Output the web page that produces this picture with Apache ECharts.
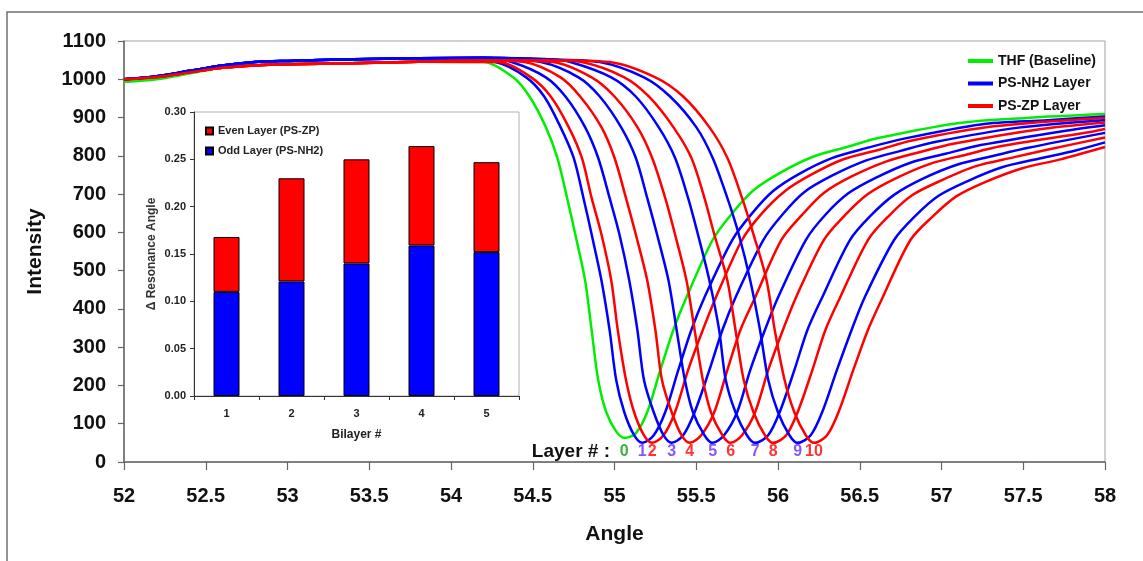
<!DOCTYPE html>
<html>
<head>
<meta charset="utf-8">
<script src="https://cdn.jsdelivr.net/npm/echarts@6/dist/echarts.min.js"></script>
<style>
  html, body { margin: 0; padding: 0; background: #ffffff; }
  #chart { width: 1143px; height: 561px; }
</style>
</head>
<body>
<div id="chart"></div>
<script>
// SPR reflectivity scans: [angle (deg), intensity]
const plateauGreen = [[52,993],[52.2,1000],[52.4,1015],[52.6,1030],[52.8,1036],[53.0,1040],[53.4,1043],[53.8,1046]];
const plateauBlue  = [[52,1000],[52.2,1008],[52.4,1022],[52.6,1036],[52.8,1045],[53.0,1048],[53.4,1052],[53.8,1055],[54.2,1056],[54.6,1052],[55.0,1047]];
const plateauRed   = [[52,1000],[52.2,1006],[52.4,1018],[52.6,1030],[52.8,1036],[53.0,1039],[53.4,1042],[53.8,1046],[54.2,1050],[54.6,1050],[55.0,1047]];

const layer0 = [[54.20,1045],[54.38,1005],[54.48,955],[54.58,875],[54.65,795],[54.71,690],[54.76,595],[54.82,475],[54.86,345],[54.90,215],[54.95,130],[55.01,80],[55.06,63],
  [55.13,75],[55.20,130],[55.28,240],[55.36,345],[55.44,430],[55.60,580],[55.72,650],[55.85,710],[56.01,755],[56.21,797],[56.42,823],[56.62,847],[57.11,886],[57.52,899],[58,909]];
const layer1 = [[54.27,1045],[54.46,1005],[54.57,955],[54.67,875],[54.75,795],[54.81,690],[54.86,595],[54.92,475],[54.97,345],[55.01,215],[55.06,130],[55.12,70],[55.17,50],
  [55.24,70],[55.31,130],[55.39,240],[55.47,345],[55.55,430],[55.72,580],[55.84,649],[55.97,708],[56.13,753],[56.33,794],[56.54,820],[56.75,843],[57.24,882],[57.65,893],[58,903]];
const layer2 = [[54.29,1045],[54.49,1005],[54.61,955],[54.72,875],[54.80,795],[54.86,690],[54.92,595],[54.98,475],[55.02,345],[55.07,215],[55.12,130],[55.18,70],[55.23,50],
  [55.30,70],[55.37,130],[55.45,240],[55.54,345],[55.62,430],[55.78,580],[55.90,649],[56.04,707],[56.20,750],[56.40,791],[56.62,816],[56.82,840],[57.32,877],[58,899]];
const layer3 = [[54.37,1045],[54.58,1005],[54.70,955],[54.82,875],[54.90,795],[54.97,690],[55.03,595],[55.09,475],[55.14,345],[55.18,215],[55.24,130],[55.30,70],[55.35,50],
  [55.42,70],[55.49,130],[55.58,240],[55.66,345],[55.74,430],[55.91,580],[56.03,648],[56.16,705],[56.33,748],[56.54,788],[56.75,813],[56.96,836],[57.46,873],[58,893]];
const layer4 = [[54.45,1045],[54.67,1005],[54.79,955],[54.92,875],[55.00,795],[55.07,690],[55.13,595],[55.20,475],[55.25,345],[55.29,215],[55.35,130],[55.41,70],[55.46,50],
  [55.53,70],[55.61,130],[55.69,240],[55.77,345],[55.86,430],[56.02,580],[56.15,647],[56.28,703],[56.45,746],[56.66,785],[56.87,810],[57.08,832],[57.59,869],[58,887]];
const layer5 = [[54.55,1045],[54.78,1005],[54.91,955],[55.04,875],[55.13,795],[55.20,690],[55.26,595],[55.33,475],[55.38,345],[55.43,215],[55.48,130],[55.55,70],[55.60,50],
  [55.67,70],[55.75,130],[55.83,240],[55.92,345],[56.00,430],[56.17,580],[56.29,646],[56.43,702],[56.60,743],[56.81,782],[57.03,806],[57.24,828],[57.75,865],[58,880]];
const layer6 = [[54.62,1045],[54.86,1005],[55.00,955],[55.14,875],[55.23,795],[55.31,690],[55.37,595],[55.44,475],[55.49,345],[55.54,215],[55.59,130],[55.66,70],[55.71,50],
  [55.78,70],[55.86,130],[55.94,240],[56.03,345],[56.11,430],[56.28,580],[56.41,645],[56.55,700],[56.72,741],[56.93,779],[57.15,803],[57.36,825],[57.88,860],[58,870]];
const layer7 = [[54.73,1045],[54.98,1005],[55.13,955],[55.27,875],[55.37,795],[55.45,690],[55.51,595],[55.58,475],[55.64,345],[55.68,215],[55.74,130],[55.81,70],[55.86,50],
  [55.94,70],[56.01,130],[56.10,240],[56.18,345],[56.27,430],[56.44,580],[56.57,645],[56.71,698],[56.88,739],[57.09,776],[57.32,800],[57.53,821],[58,860]];
const layer8 = [[54.80,1045],[55.06,1005],[55.21,955],[55.36,875],[55.47,795],[55.55,690],[55.61,595],[55.69,475],[55.74,345],[55.79,215],[55.85,130],[55.92,70],[55.97,50],
  [56.05,70],[56.12,130],[56.21,240],[56.29,345],[56.38,430],[56.55,580],[56.68,644],[56.82,697],[57.00,736],[57.21,773],[57.44,796],[57.66,817],[58,848]];
const layer9 = [[54.91,1045],[55.18,1005],[55.34,955],[55.50,875],[55.60,795],[55.69,690],[55.76,595],[55.83,475],[55.89,345],[55.94,215],[56.00,130],[56.07,70],[56.12,50],
  [56.20,70],[56.27,130],[56.36,240],[56.45,345],[56.53,430],[56.71,580],[56.84,643],[56.98,695],[57.16,734],[57.37,770],[57.60,793],[57.82,814],[58,835]];
const layer10 = [[54.97,1045],[55.25,1005],[55.42,955],[55.58,875],[55.69,795],[55.78,690],[55.85,595],[55.93,475],[55.98,345],[56.04,215],[56.10,130],[56.17,70],[56.22,50],
  [56.30,70],[56.37,130],[56.46,240],[56.55,345],[56.64,430],[56.81,580],[56.95,643],[57.09,694],[57.27,732],[57.49,767],[57.72,790],[58,823]];

// angle of the reflectivity minimum for layers 0..10
const minAngles = [55.06, 55.17, 55.23, 55.35, 55.46, 55.60, 55.71, 55.86, 55.97, 56.12, 56.22];
const layerNumbers = ['0','1','2','3','4','5','6','7','8','9','10'];

// inset: resonance-angle shift per bilayer
const bilayers = ['1','2','3','4','5'];
const oddShift  = [0.110, 0.121, 0.140, 0.159, 0.152];
const evenShift = [0.058, 0.109, 0.110, 0.105, 0.095];

const FONT = "'Liberation Sans', Arial, sans-serif";
const GREEN = '#00ee00', BLUE = '#0000ff', RED = '#ff0000';
const NAME_THF = 'THF (Baseline)', NAME_NH2 = 'PS-NH2 Layer', NAME_ZP = 'PS-ZP Layer';

const curves = [layer0, layer1, layer2, layer3, layer4, layer5, layer6, layer7, layer8, layer9, layer10];

function withPlateau(curve, idx) {
  const plateau = idx === 0 ? plateauGreen : (idx % 2 === 1 ? plateauBlue : plateauRed);
  const start = curve[0][0];
  return plateau.filter(p => p[0] < start - 0.12).concat(curve);
}

const colorOf = i => i === 0 ? GREEN : (i % 2 === 1 ? BLUE : RED);

const lineSeries = curves.map((c, i) => ({
  type: 'line',
  name: i === 0 ? NAME_THF : (i % 2 === 1 ? NAME_NH2 : NAME_ZP),
  data: withPlateau(c, i),
  xAxisIndex: 0, yAxisIndex: 0,
  showSymbol: false, symbol: 'none',
  smooth: 0.3,
  lineStyle: { width: 2.5, color: colorOf(i) },
  itemStyle: { color: colorOf(i) },
  z: 2
}));

const labelColor = i => i === 0 ? '#119911' : (i % 2 === 1 ? '#6a2cff' : '#ff0000');

const layerLabelSeries = {
  type: 'scatter',
  xAxisIndex: 0, yAxisIndex: 0,
  symbolSize: 1,
  itemStyle: { color: 'rgba(0,0,0,0)' },
  clip: false,
  silent: true,
  data: minAngles.map((a, i) => ({
    value: [a, 0],
    label: {
      show: true, position: 'inside', offset: [0, -10],
      formatter: layerNumbers[i],
      color: labelColor(i), fontSize: 16, fontWeight: 'bold', fontFamily: FONT
    }
  })),
  z: 5
};

const barCommon = {
  type: 'bar', xAxisIndex: 1, yAxisIndex: 1, stack: 'shift', barWidth: 26
};

const chart = echarts.init(document.getElementById('chart'), null, { renderer: 'canvas' });

chart.setOption({
  animation: false,
  backgroundColor: '#ffffff',
  textStyle: { fontFamily: FONT },
  grid: [
    { left: 124, top: 41, width: 981, height: 421, show: true, borderColor: '#a0a0a0', borderWidth: 1, backgroundColor: 'transparent' },
    { left: 194, top: 112, width: 325, height: 284, show: true, borderColor: '#b0b0b0', borderWidth: 1, backgroundColor: 'transparent' }
  ],
  legend: [
    {
      data: [NAME_THF, NAME_NH2, NAME_ZP],
      orient: 'vertical', left: 963, top: 47,
      itemWidth: 25, itemHeight: 4, icon: 'rect', itemGap: 4.5,
      textStyle: { fontSize: 14, fontWeight: 'bold', color: '#111', fontFamily: FONT, lineHeight: 18 },
      selectedMode: false
    },
    {
      data: ['Even Layer (PS-ZP)', 'Odd Layer (PS-NH2)'],
      orient: 'vertical', left: 200, top: 119,
      itemWidth: 7, itemHeight: 7, icon: 'rect', itemGap: 6,
      textStyle: { fontSize: 11, fontWeight: 'bold', color: '#222', fontFamily: FONT, lineHeight: 14 },
      selectedMode: false
    }
  ],
  xAxis: [
    {
      type: 'value', gridIndex: 0, min: 52, max: 58, interval: 0.5,
      name: 'Angle', nameLocation: 'middle', nameGap: 62,
      nameTextStyle: { fontSize: 21, fontWeight: 'bold', color: '#111', fontFamily: FONT },
      axisLine: { show: true, onZero: false, lineStyle: { color: '#666', width: 1.5 } },
      axisTick: { show: true, length: 8, lineStyle: { color: '#666', width: 1.2 } },
      axisLabel: { fontSize: 20, fontWeight: 'bold', color: '#111', margin: 24, fontFamily: FONT,
                   formatter: v => String(v) },
      splitLine: { show: false }
    },
    {
      type: 'category', gridIndex: 1, data: bilayers,
      name: 'Bilayer #', nameLocation: 'middle', nameGap: 33,
      nameTextStyle: { fontSize: 12, fontWeight: 'bold', color: '#222', fontFamily: FONT },
      axisLine: { show: true, lineStyle: { color: '#333', width: 1 } },
      axisTick: { show: true, length: 4, alignWithLabel: false, lineStyle: { color: '#333' } },
      axisLabel: { fontSize: 11, fontWeight: 'bold', color: '#222', margin: 12, fontFamily: FONT },
      splitLine: { show: false }
    }
  ],
  yAxis: [
    {
      type: 'value', gridIndex: 0, min: 0, max: 1100, interval: 100,
      name: 'Intensity', nameLocation: 'middle', nameGap: 78, nameRotate: 90,
      nameTextStyle: { fontSize: 21, fontWeight: 'bold', color: '#111', fontFamily: FONT },
      axisLine: { show: true, onZero: false, lineStyle: { color: '#666', width: 1.5 } },
      axisTick: { show: true, length: 6, lineStyle: { color: '#666', width: 1.2 } },
      axisLabel: { fontSize: 20, fontWeight: 'bold', color: '#111', margin: 18, fontFamily: FONT,
                   formatter: v => String(v) },
      splitLine: { show: false }
    },
    {
      type: 'value', gridIndex: 1, min: 0, max: 0.3, interval: 0.05,
      name: '\u0394 Resonance Angle', nameLocation: 'middle', nameGap: 36, nameRotate: 90,
      nameTextStyle: { fontSize: 12, fontWeight: 'bold', color: '#333', fontFamily: FONT },
      axisLine: { show: true, lineStyle: { color: '#333', width: 1 } },
      axisTick: { show: true, length: 4, lineStyle: { color: '#333' } },
      axisLabel: { fontSize: 11, fontWeight: 'bold', color: '#222', margin: 8, fontFamily: FONT,
                   formatter: v => v.toFixed(2) },
      splitLine: { show: false }
    }
  ],
  graphic: [
    { type: 'rect', shape: { x: 7, y: 12, width: 1200, height: 700 },
      style: { fill: 'none', stroke: '#707070', lineWidth: 1.5 }, silent: true, z: 0 },
    { type: 'text', x: 610, y: 452, z: 10,
      style: { text: 'Layer # :', fill: '#111', font: "bold 19px " + FONT, textAlign: 'right', textVerticalAlign: 'middle' } }
  ],
  series: lineSeries.concat([
    layerLabelSeries,
    Object.assign({}, barCommon, {
      name: 'Odd Layer (PS-NH2)', data: oddShift,
      itemStyle: { color: BLUE, borderColor: '#000', borderWidth: 1 }
    }),
    Object.assign({}, barCommon, {
      name: 'Even Layer (PS-ZP)', data: evenShift,
      itemStyle: { color: RED, borderColor: '#000', borderWidth: 1 }
    })
  ])
});
</script>
</body>
</html>
